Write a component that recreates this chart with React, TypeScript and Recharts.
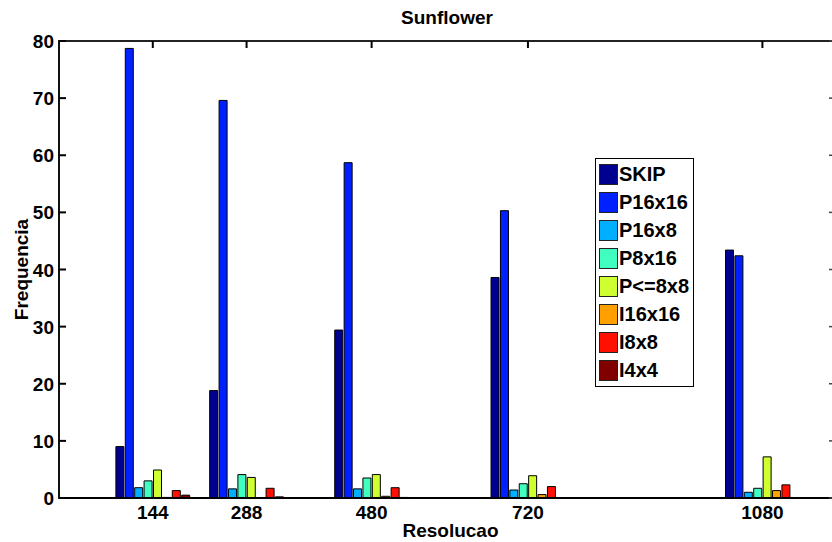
import { BarChart, Bar, XAxis, YAxis, Legend, Label, ReferenceArea } from 'recharts';

const resolutions = [144, 288, 480, 720, 1080];
const yTicks = [0, 10, 20, 30, 40, 50, 60, 70, 80];

// frequency (%) of each macroblock mode per resolution
const skip = [9.0, 18.8, 29.4, 38.6, 43.4];
const p16x16 = [78.7, 69.6, 58.7, 50.3, 42.4];
const p16x8 = [1.8, 1.6, 1.6, 1.4, 1.0];
const p8x16 = [3.0, 4.1, 3.5, 2.5, 1.7];
const pLe8x8 = [4.9, 3.6, 4.1, 3.9, 7.2];
const i16x16 = [0.1, 0.05, 0.3, 0.6, 1.3];
const i8x8 = [1.3, 1.7, 1.8, 2.0, 2.3];
const i4x4 = [0.5, 0.2, 0.1, 0.05, 0.05];

const series = [
  { key: 'skip', name: 'SKIP', color: '#000090', values: skip },
  { key: 'p16x16', name: 'P16x16', color: '#0020ff', values: p16x16 },
  { key: 'p16x8', name: 'P16x8', color: '#00afff', values: p16x8 },
  { key: 'p8x16', name: 'P8x16', color: '#40ffc0', values: p8x16 },
  { key: 'ple8x8', name: 'P<=8x8', color: '#cfff30', values: pLe8x8 },
  { key: 'i16x16', name: 'I16x16', color: '#ffa000', values: i16x16 },
  { key: 'i8x8', name: 'I8x8', color: '#ff1000', values: i8x8 },
  { key: 'i4x4', name: 'I4x4', color: '#800000', values: i4x4 },
];

const data = resolutions.map((res, i) => {
  const row: Record<string, number> = { res };
  series.forEach((s) => {
    row[s.key] = s.values[i];
  });
  return row;
});

const X_DOMAIN: [number, number] = [0, 1193];
const Y_DOMAIN: [number, number] = [0, 80];
const PLOT_TOP = 41;
const PLOT_LEFT = 59;
const PLOT_RIGHT = 836;
const FONT = '"Liberation Sans", Arial, Helvetica, sans-serif';
const textStyle = { fontSize: 19, fontWeight: 'bold', fill: '#000', fontFamily: FONT };

// matlab style: tick marks point into the plot box
function YTick(props: any) {
  const { x, y, payload } = props;
  return (
    <g>
      <line x1={PLOT_LEFT} x2={PLOT_LEFT + 7} y1={y} y2={y} stroke="#000" strokeWidth={2} />
      <line x1={PLOT_RIGHT - 7} x2={PLOT_RIGHT} y1={y} y2={y} stroke="#444" strokeWidth={1.5} />
      <text x={x} y={y} dy={7} textAnchor="end" style={textStyle}>
        {payload.value}
      </text>
    </g>
  );
}

function XTick(props: any) {
  const { x, y, payload } = props;
  return (
    <g>
      <line x1={x} x2={x} y1={PLOT_TOP} y2={PLOT_TOP + 7} stroke="#000" strokeWidth={2} />
      <text x={x} y={y} dy={14} textAnchor="middle" style={textStyle}>
        {payload.value}
      </text>
    </g>
  );
}

function LegendBox() {
  return (
    <div
      style={{
        border: '1px solid #000',
        background: '#fff',
        padding: '1px 3px 2px 3px',
        fontFamily: FONT,
        fontWeight: 'bold',
        fontSize: 20,
        width: 91,
      }}
    >
      {series.map((s) => (
        <div key={s.key} style={{ display: 'flex', alignItems: 'center', height: 28 }}>
          <span
            style={{
              width: 19,
              height: 21,
              background: s.color,
              border: '1px solid #222',
              marginRight: 1,
              boxSizing: 'border-box',
              flexShrink: 0,
            }}
          />
          <span style={{ whiteSpace: 'nowrap' }}>{s.name}</span>
        </div>
      ))}
    </div>
  );
}

export default function App() {
  return (
    <div
      style={{
        position: 'absolute',
        left: 0,
        top: 0,
        width: 832,
        height: 542,
        overflow: 'hidden',
        background: '#fff',
      }}
    >
      <div
        style={{
          position: 'absolute',
          left: 0,
          width: 894,
          top: 7,
          textAlign: 'center',
          fontFamily: FONT,
          fontWeight: 'bold',
          fontSize: 19,
        }}
      >
        Sunflower
      </div>
      <BarChart
        width={PLOT_RIGHT}
        height={542}
        data={data}
        margin={{ top: PLOT_TOP, right: 0, bottom: 0, left: 0 }}
        barSize={8}
        barGap={1.4}
      >
        <ReferenceArea
          x1={X_DOMAIN[0]}
          x2={X_DOMAIN[1]}
          y1={Y_DOMAIN[0]}
          y2={Y_DOMAIN[1]}
          fill="none"
          stroke="#222"
          strokeWidth={2}
          ifOverflow="visible"
        />
        <XAxis
          dataKey="res"
          type="number"
          domain={X_DOMAIN}
          ticks={resolutions}
          height={44}
          tickLine={false}
          tickSize={6}
          tickMargin={1}
          axisLine={{ stroke: '#000', strokeWidth: 2 }}
          tick={<XTick />}
        >
          <Label value="Resolucao" position="insideBottom" offset={5} dx={3} style={textStyle} />
        </XAxis>
        <YAxis
          domain={Y_DOMAIN}
          ticks={yTicks}
          width={PLOT_LEFT}
          tickLine={false}
          tickSize={0}
          tickMargin={5}
          axisLine={{ stroke: '#000' }}
          tick={<YTick />}
        >
          <Label
            value="Frequencia"
            angle={-90}
            position="center"
            dx={-8}
            style={{ ...textStyle, textAnchor: 'middle' }}
          />
        </YAxis>
        <Legend
          layout="vertical"
          align="center"
          verticalAlign="middle"
          wrapperStyle={{ left: 595, top: 158, width: 'auto' }}
          content={() => <LegendBox />}
        />
        {series.map((s) => (
          <Bar
            key={s.key}
            dataKey={s.key}
            name={s.name}
            fill={s.color}
            stroke="#000"
            strokeWidth={1}
            isAnimationActive={false}
          />
        ))}
      </BarChart>
    </div>
  );
}
